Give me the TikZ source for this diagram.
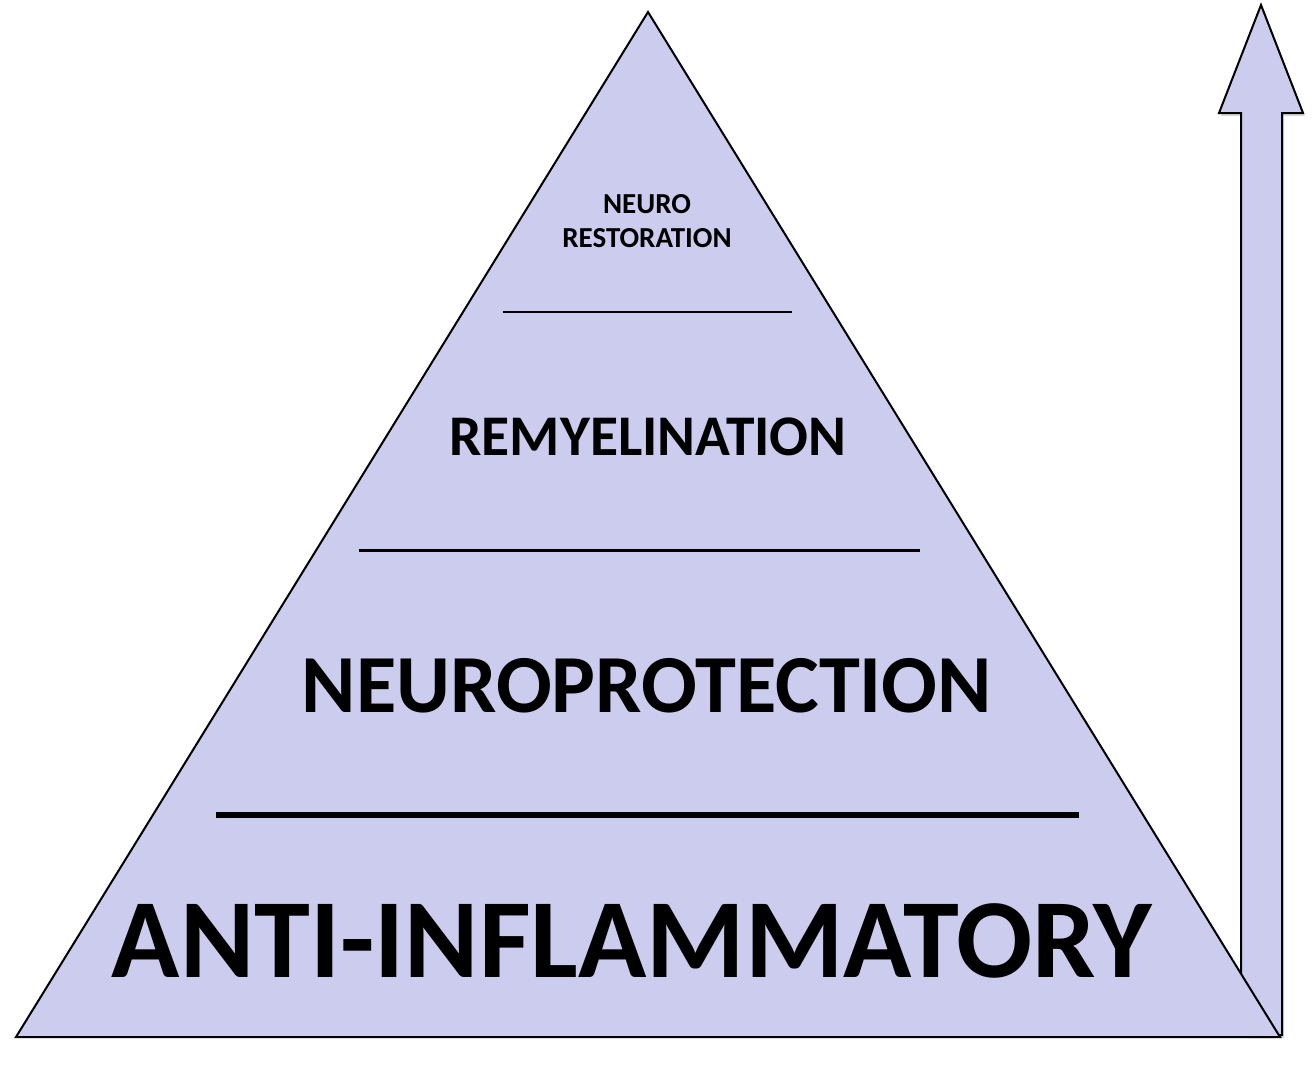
\documentclass[tikz,border=0pt]{standalone}
\usepackage{fontspec}
\setmainfont{Carlito}
\definecolor{pyrfill}{RGB}{204,204,238}
\definecolor{shadowgray}{RGB}{150,150,150}
\tikzset{
  shape fill/.style={fill=pyrfill, draw=black, line width=2pt, line join=miter},
  shadow copy/.style={fill=shadowgray, opacity=0.35, draw=none},
  divider/.style={draw=black},
  label text/.style={font=\bfseries, text=black, inner sep=0pt, anchor=base}
}
\begin{document}
\begin{tikzpicture}[x=1pt, y=-1pt]
\useasboundingbox (0,0) rectangle (1312,1076);
% coordinates
\coordinate (apex) at (648,12);
\coordinate (bl) at (16,1037);
\coordinate (br) at (1280,1037);
% arrow shadow
\fill[shadow copy, shift={(2,3)}] (1261,5) -- (1303,113) -- (1282,113) -- (1282,1035) -- (1241,1035) -- (1241,113) -- (1219,113) -- cycle;
% arrow
\path[shape fill] (1261,5) -- (1303,113) -- (1282,113) -- (1282,1035) -- (1241,1035) -- (1241,113) -- (1219,113) -- cycle;
% triangle shadow
\fill[shadow copy, shift={(2,3)}] (apex) -- (br) -- (bl) -- cycle;
% triangle
\path[shape fill] (apex) -- (br) -- (bl) -- cycle;
% dividers
\coordinate (d1l) at (503,312); \coordinate (d1r) at (792,312);
\coordinate (d2l) at (359,550); \coordinate (d2r) at (920,550);
\coordinate (d3l) at (216,815); \coordinate (d3r) at (1079,815);
\draw[divider, line width=1.2pt] (d1l) -- (d1r);
\draw[divider, line width=3pt] (d2l) -- (d2r);
\draw[divider, line width=6pt] (d3l) -- (d3r);
% labels
\node[label text, font=\bfseries\fontsize{29}{31}\selectfont] (neuro) at (647,213) {NEURO};
\node[label text, font=\bfseries\fontsize{29}{31}\selectfont] (restor) at (647,247) {RESTORATION};
\node[label text, font=\bfseries\fontsize{57.5}{60}\selectfont] (remyel) at (648,455) {REMYELINATION};
\node[label text, font=\bfseries\fontsize{82.5}{86}\selectfont] (neuroprot) at (647,712) {NEUROPROTECTION};
\node[label text, font=\bfseries\fontsize{112.7}{116}\selectfont] (antiinf) at (632,977) {ANTI-INFLAMMATORY};
\end{tikzpicture}
\end{document}
